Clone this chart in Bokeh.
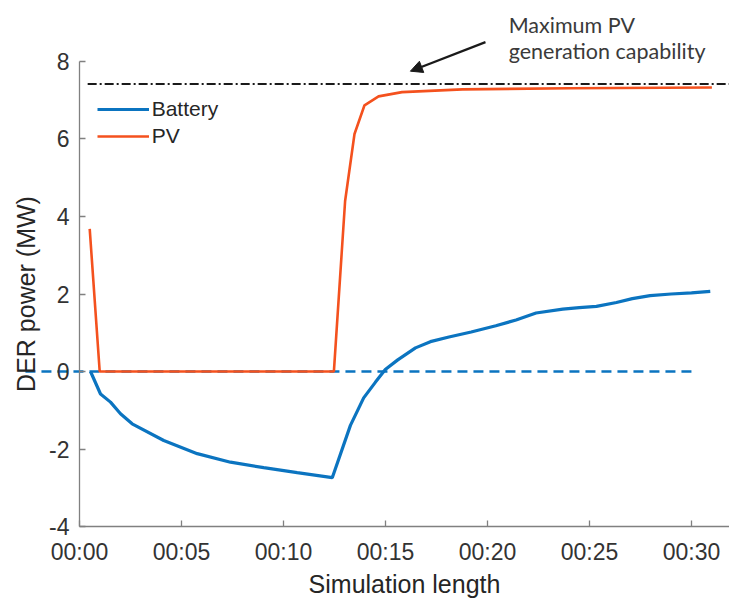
from bokeh.plotting import figure
from bokeh.models import (Range1d, FixedTicker, Legend, LegendItem, Arrow,
                          NormalHead, Label)
from bokeh.embed import file_html
from bokeh.resources import INLINE

# ---- data (time in minutes) ----
battery_t = [0.54, 1.03, 1.52, 2.01, 2.58, 4.13, 5.77, 7.40, 9.03, 10.67, 12.39,
             13.28, 13.93, 14.5, 14.99, 15.6, 16.47, 17.2, 18.11, 19.2, 20.41,
             21.4, 22.38, 23.69, 24.5, 25.34, 26.32, 27.1, 27.97, 29.0, 30.0, 30.92]
battery_v = [0.0, -0.58, -0.79, -1.09, -1.35, -1.78, -2.12, -2.34, -2.48, -2.61, -2.74,
             -1.39, -0.68, -0.28, 0.05, 0.3, 0.61, 0.77, 0.89, 1.02, 1.18,
             1.33, 1.51, 1.61, 1.65, 1.68, 1.78, 1.88, 1.96, 2.0, 2.03, 2.07]

pv_t = [0.5, 0.99, 12.47, 13.02, 13.48, 13.97, 14.66, 15.81, 18.77, 24.0, 31.0]
pv_v = [3.68, 0.0, 0.0, 4.40, 6.13, 6.87, 7.10, 7.21, 7.28, 7.31, 7.33]

max_pv_t = [0.4, 31.9]
max_pv_v = [7.42, 7.42]
zero_line_t = [-2.65, 30.18]
zero_line_v = [0.0, 0.0]

annotation_lines = ["Maximum PV", "generation capability"]
annotation_text_t = [21.04, 21.04]
annotation_text_v = [8.93, 8.28]
annotation_arrow_t = [19.9, 16.22]
annotation_arrow_v = [8.50, 7.75]

x_ticks = [0, 5, 10, 15, 20, 25, 30]
x_tick_labels = ["00:00", "00:05", "00:10", "00:15", "00:20", "00:25", "00:30"]
y_ticks = [-4, -2, 0, 2, 4, 6, 8]
y_tick_labels = ["-4", "-2", "0", "2", "4", "6", "8"]
x_axis_bounds = (0, 31.9)
y_axis_bounds = (-4, 8)

BLUE = "#0B74C0"
ORANGE = "#F4511E"
AXIS_FONT = "Liberation Sans"

p = figure(width=729, height=601, output_backend="svg", toolbar_location=None,
           x_range=Range1d(-3.873, 31.863), y_range=Range1d(-5.935, 9.574),
           min_border=0)
p.outline_line_color = None
p.grid.grid_line_color = None
p.background_fill_color = "white"
p.border_fill_color = "white"

# reference lines
p.line(max_pv_t, max_pv_v, line_color="#1a1a1a", line_width=2, line_dash="9 3 2 3")
p.line(zero_line_t, zero_line_v, line_color=BLUE, line_width=2.5, line_dash="10 6")

r_bat = p.line(battery_t, battery_v, line_color=BLUE, line_width=3.2)
r_pv = p.line(pv_t, pv_v, line_color=ORANGE, line_width=2.6)

# annotation
p.add_layout(Arrow(x_start=annotation_arrow_t[0], y_start=annotation_arrow_v[0],
                   x_end=annotation_arrow_t[1], y_end=annotation_arrow_v[1],
                   line_color="#1a1a1a", line_width=2.2,
                   end=NormalHead(size=12, fill_color="#1a1a1a", line_color="#1a1a1a")))
for txt, tx, ty in zip(annotation_lines, annotation_text_t, annotation_text_v):
    p.add_layout(Label(x=tx, y=ty, text=txt, text_font="Lato", text_font_size="21.5px",
                       text_color="#3a3a3a", text_baseline="alphabetic", text_align="left"))

legend = Legend(items=[LegendItem(label="Battery", renderers=[r_bat]),
                       LegendItem(label="PV", renderers=[r_pv])],
                location=(96.7, 452.7), padding=0, margin=0, spacing=3,
                label_height=24, glyph_height=24, glyph_width=52, label_standoff=3,
                label_text_font=AXIS_FONT, label_text_font_size="21px",
                label_text_color="#262626", background_fill_alpha=0,
                border_line_color=None)
p.add_layout(legend)

for ax in (p.xaxis[0], p.yaxis[0]):
    ax.axis_line_color = "#808080"
    ax.axis_line_width = 1.3
    ax.major_tick_line_color = "#808080"
    ax.major_tick_line_width = 1.3
    ax.major_tick_in = 6
    ax.major_tick_out = 0
    ax.minor_tick_line_color = None
    ax.major_label_text_font = AXIS_FONT
    ax.major_label_text_font_size = "23px"
    ax.major_label_text_color = "#333333"
    ax.axis_label_text_font = AXIS_FONT
    ax.axis_label_text_font_size = "25px"
    ax.axis_label_text_font_style = "normal"
    ax.axis_label_text_color = "#262626"

p.xaxis.ticker = FixedTicker(ticks=x_ticks)
p.xaxis.major_label_overrides = dict(zip(x_ticks, x_tick_labels))
p.xaxis.axis_label = "Simulation length"
p.xaxis.major_label_standoff = 12
p.xaxis.axis_label_standoff = 2
p.xaxis.fixed_location = y_axis_bounds[0]
p.xaxis.bounds = x_axis_bounds

p.yaxis.ticker = FixedTicker(ticks=y_ticks)
p.yaxis.major_label_overrides = dict(zip(y_ticks, y_tick_labels))
p.yaxis.axis_label = "DER power (MW)"
p.yaxis.major_label_standoff = 10
p.yaxis.axis_label_standoff = 6
p.yaxis.fixed_location = x_axis_bounds[0]
p.yaxis.bounds = y_axis_bounds

open("out.html", "w").write(file_html(p, INLINE))
